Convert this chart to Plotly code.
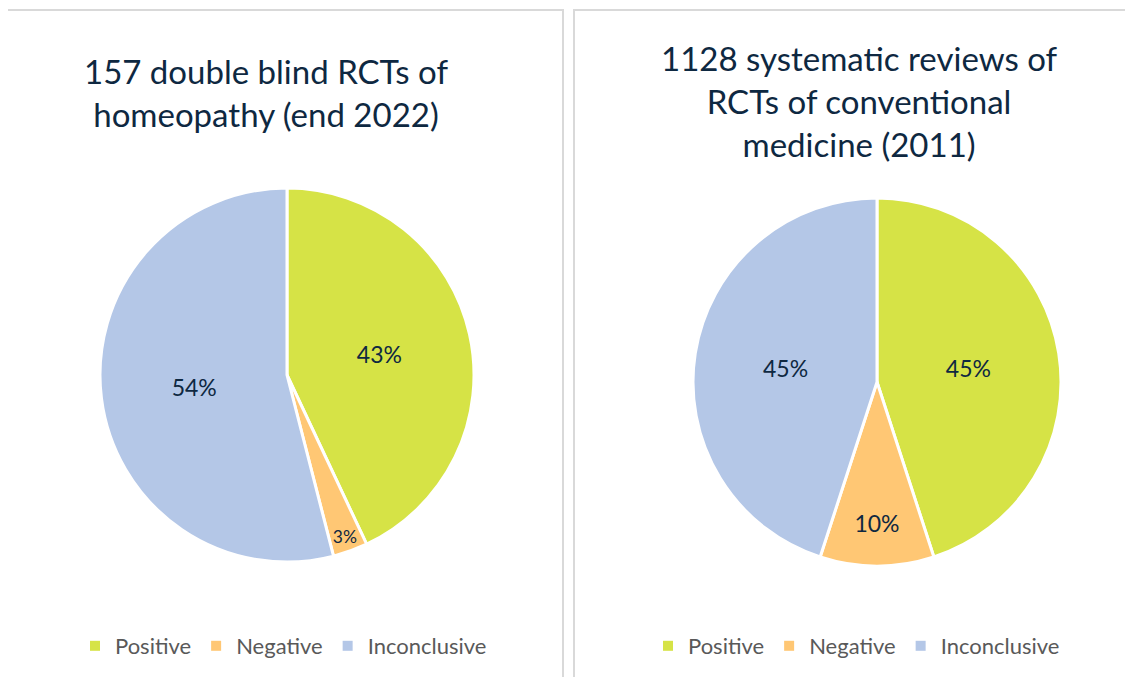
import plotly.graph_objects as go

W, H = 1133, 677
OFF = 8  # page body margin

categories = ["Positive", "Negative", "Inconclusive"]
homeopathy_values = [43, 3, 54]
conventional_values = [45, 10, 45]
title_left = "157 double blind RCTs of<br>homeopathy (end 2022)"
title_right = "1128 systematic reviews of<br>RCTs of conventional<br>medicine (2011)"

colors = ["#D6E346", "#FFC774", "#B4C7E7"]
FONT = "Lato"
TXT = "#0E2841"

def px_x(x):
    return (x - OFF) / W

def px_y(y):
    return 1 - (y - OFF) / H

fig = go.Figure()

def add_pie(values, cx, cy, r):
    fig.add_trace(go.Pie(
        labels=categories, values=values, sort=False, direction="clockwise",
        rotation=0,
        marker=dict(colors=colors, line=dict(color="white", width=3)),
        texttemplate="%{value}%",
        textposition="inside", insidetextorientation="horizontal",
        textfont=dict(family=FONT, size=23, color=TXT),
        domain=dict(x=[px_x(cx - r), px_x(cx + r)], y=[px_y(cy + r), px_y(cy - r)]),
        showlegend=False, hoverinfo="label+percent",
    ))

add_pie(homeopathy_values, 287, 375, 187)
add_pie(conventional_values, 877, 382, 184)

# legend entries (one set per panel)
for legend_name in ["legend", "legend2"]:
    for cat, col in zip(categories, colors):
        fig.add_trace(go.Scatter(
            x=[None], y=[None], mode="markers", name=cat,
            marker=dict(symbol="square", size=10, color=col),
            legend=legend_name, showlegend=True, hoverinfo="skip",
        ))

legend_common = dict(orientation="h", font=dict(family=FONT, size=22, color="#595959"),
                     bgcolor="rgba(0,0,0,0)", xanchor="left", yanchor="middle",
                     itemwidth=30, itemclick=False, itemdoubleclick=False)

fig.update_layout(
    width=W, height=H,
    margin=dict(l=0, r=0, t=0, b=0),
    paper_bgcolor="white", plot_bgcolor="white",
    showlegend=True,
    xaxis=dict(visible=False), yaxis=dict(visible=False),
    legend=dict(x=px_x(75), y=px_y(646), **legend_common),
    legend2=dict(x=px_x(648), y=px_y(646), **legend_common),
    shapes=[
        dict(type="rect", xref="paper", yref="paper",
             x0=px_x(7), x1=px_x(563), y0=px_y(700), y1=px_y(10),
             line=dict(color="#D9D9D9", width=2), fillcolor="rgba(0,0,0,0)"),
        dict(type="rect", xref="paper", yref="paper",
             x0=px_x(574), x1=px_x(1160), y0=px_y(700), y1=px_y(10),
             line=dict(color="#D9D9D9", width=2), fillcolor="rgba(0,0,0,0)"),
    ],
    annotations=[
        dict(text=title_left, x=px_x(266), y=px_y(92), xref="paper", yref="paper",
             showarrow=False, xanchor="center", yanchor="middle",
             font=dict(family=FONT, size=33, color=TXT)),
        dict(text=title_right, x=px_x(860), y=px_y(101), xref="paper", yref="paper",
             showarrow=False, xanchor="center", yanchor="middle",
             font=dict(family=FONT, size=33, color=TXT)),
    ],
)

fig.write_html("out.html")
